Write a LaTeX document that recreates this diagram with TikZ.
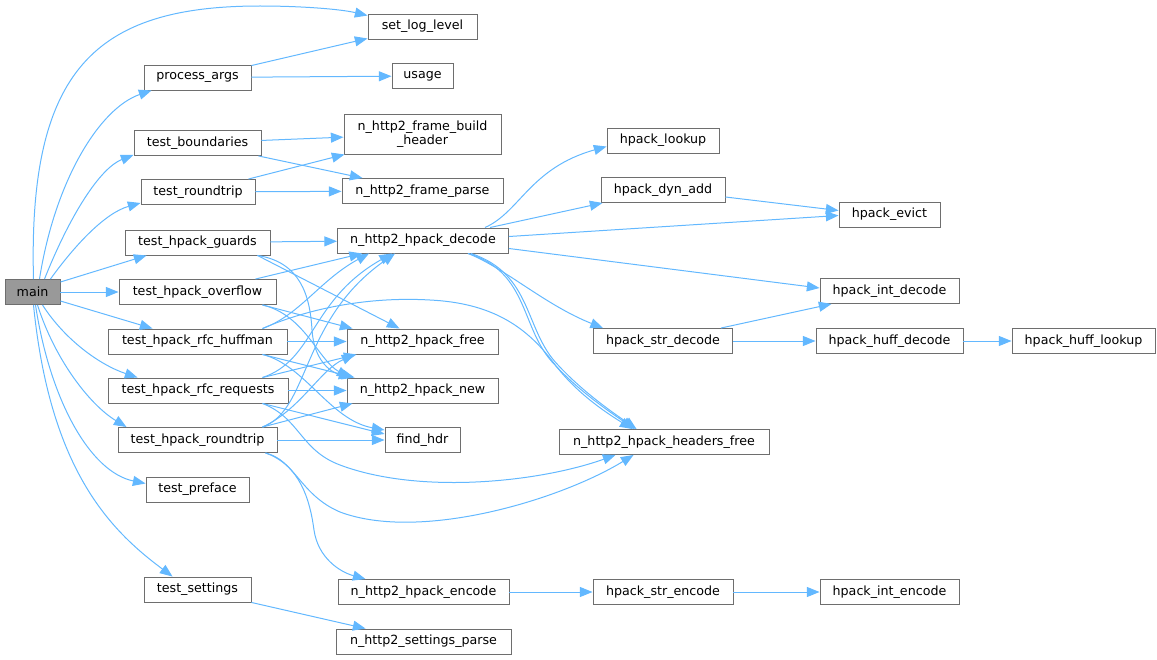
\documentclass[tikz,border=0pt]{standalone}
\usepackage{fontspec}
\setmainfont{DejaVu Sans}
\usetikzlibrary{arrows.meta,calc}
\definecolor{edgeblue}{HTML}{63B8FF}
\definecolor{boxgray}{HTML}{6E6E6E}
\definecolor{mainfill}{HTML}{999999}
\tikzset{
  fn/.style={draw=boxgray, line width=0.7pt, fill=white, inner sep=0pt,
    minimum height=18.75pt, align=center,
    font=\fontsize{9.5}{10.5}\selectfont},
  bw/.style={minimum width=#1*0.75pt},
  edge/.style={draw=edgeblue, line width=0.75pt,
    -{Triangle[length=9.5pt,width=7.5pt]}},
}
\begin{document}
\begin{tikzpicture}[x=0.75pt,y=-0.75pt]
\useasboundingbox (0,0) rectangle (1157,660);
% nodes
\node[fn,bw=55,fill=mainfill] (main) at (32.5,292) {main};
\node[fn,bw=109] (setlog) at (422.5,26.5) {set\_log\_level};
\node[fn,bw=107] (procargs) at (197.5,77.5) {process\_args};
\node[fn,bw=61] (usage) at (422.5,76) {usage};
\node[fn,bw=127] (tbound) at (197.5,143) {test\_boundaries};
\node[fn,bw=157,minimum height=30pt] (fbuild) at (422.5,134) {n\_http2\_frame\_build\\\_header};
\node[fn,bw=114] (troundtrip) at (198,192) {test\_roundtrip};
\node[fn,bw=161] (fparse) at (422.5,191) {n\_http2\_frame\_parse};
\node[fn,bw=145] (tguards) at (197.5,242.5) {test\_hpack\_guards};
\node[fn,bw=171] (decode) at (423,240.5) {n\_http2\_hpack\_decode};
\node[fn,bw=157] (toverflow) at (197.5,292) {test\_hpack\_overflow};
\node[fn,bw=179] (thuff) at (197.5,341.5) {test\_hpack\_rfc\_huffman};
\node[fn,bw=151] (hfree) at (422.5,341.5) {n\_http2\_hpack\_free};
\node[fn,bw=180] (treq) at (198,390.5) {test\_hpack\_rfc\_requests};
\node[fn,bw=151] (hnew) at (422.5,390.5) {n\_http2\_hpack\_new};
\node[fn,bw=159] (thround) at (197.5,440) {test\_hpack\_roundtrip};
\node[fn,bw=75] (findhdr) at (422.5,440) {find\_hdr};
\node[fn,bw=103] (tpreface) at (197.5,489.5) {test\_preface};
\node[fn,bw=107] (tsettings) at (197.5,589.5) {test\_settings};
\node[fn,bw=171] (encode) at (423.5,592) {n\_http2\_hpack\_encode};
\node[fn,bw=175] (sparse) at (423.5,641.5) {n\_http2\_settings\_parse};
\node[fn,bw=112] (lookup) at (663,140.5) {hpack\_lookup};
\node[fn,bw=124] (dynadd) at (663,190) {hpack\_dyn\_add};
\node[fn,bw=101] (evict) at (889.5,214.5) {hpack\_evict};
\node[fn,bw=139] (intdec) at (889.5,291) {hpack\_int\_decode};
\node[fn,bw=139] (strdec) at (663,341) {hpack\_str\_decode};
\node[fn,bw=147] (huffdec) at (889.5,341) {hpack\_huff\_decode};
\node[fn,bw=143] (hufflook) at (1083.5,341) {hpack\_huff\_lookup};
\node[fn,bw=210] (hdrfree) at (664,442) {n\_http2\_hpack\_headers\_free};
\node[fn,bw=140] (strenc) at (663,592) {hpack\_str\_encode};
\node[fn,bw=139] (intenc) at (889.5,592) {hpack\_int\_encode};
% edges from main
\draw[edge] ($(main.north)+(1,0)$) .. controls (28,70) and (95,6) .. (260,6) .. controls (300,6) and (340,9) .. ($(setlog.north west)+(0,2)$);
\draw[edge] ($(main.north)+(7,0)$) .. controls (55,180) and (100,108) .. ($(procargs.south west)+(8,0)$);
\draw[edge] ($(main.north)+(12,0)$) .. controls (70,215) and (100,168) .. ($(tbound.south west)+(0,-1)$);
\draw[edge] ($(main.north east)+(-10,0)$) .. controls (75,245) and (105,213) .. ($(troundtrip.south west)+(0,-2)$);
\draw[edge] ($(main.east)+(0,-10)$) -- ($(tguards.south west)+(22,0)$);
\draw[edge] (main) -- (toverflow);
\draw[edge] ($(main.east)+(0,9)$) -- ($(thuff.north west)+(45,0)$);
\draw[edge] ($(main.south)+(10,0)$) .. controls (65,340) and (100,365) .. ($(treq.north west)+(30,0)$);
\draw[edge] ($(main.south)+(5,0)$) .. controls (55,360) and (90,405) .. ($(thround.north west)+(9,0)$);
\draw[edge] ($(main.south)+(3,0)$) .. controls (50,400) and (90,472) .. ($(tpreface.west)+(0,-6)$);
\draw[edge] ($(main.south)+(1,0)$) .. controls (50,470) and (110,530) .. ($(tsettings.north west)+(29,0)$);
% second level
\draw[edge] ($(procargs.north east)+(0,1)$) -- ($(setlog.south west)+(0,-1)$);
\draw[edge] (procargs) -- (usage);
\draw[edge] (tbound) -- (fbuild);
\draw[edge] ($(tbound.south east)+(-3,0)$) -- ($(fparse.north west)+(21,0)$);
\draw[edge] ($(troundtrip.north east)+(-7,0)$) -- ($(fbuild.south west)+(1,0)$);
\draw[edge] (troundtrip) -- (fparse);
% guards
\draw[edge] (tguards) -- (decode);
\draw[edge] ($(tguards.south east)+(-13,0)$) -- ($(hfree.north west)+(53,0)$);
\draw[edge] ($(tguards.south east)+(-13,0)$) .. controls (300,262) and (310,295) .. (312,330) .. controls (314,360) and (330,372) .. ($(hnew.north west)+(5,0)$);
% overflow
\draw[edge] ($(toverflow.north east)+(-21,0)$) -- ($(decode.south west)+(25,0)$);
\draw[edge] ($(toverflow.south east)+(-14,0)$) -- ($(hfree.north west)+(6,0)$);
\draw[edge] ($(toverflow.south east)+(-14,0)$) .. controls (305,315) and (318,360) .. ($(hnew.north west)+(3,0)$);
% huffman
\draw[edge] ($(thuff.north east)+(-25,0)$) .. controls (300,315) and (320,280) .. ($(decode.south west)+(32,0)$);
\draw[edge] (thuff) -- (hfree);
\draw[edge] ($(thuff.south east)+(-25,0)$) -- ($(hnew.north west)+(8,0)$);
\draw[edge] ($(thuff.south east)+(-25,0)$) .. controls (305,365) and (330,420) .. ($(findhdr.north west)+(0,3)$);
\draw[edge] ($(thuff.north east)+(-25,0)$) .. controls (300,312) and (360,296) .. (430,300) .. controls (490,303) and (525,325) .. (553,362) .. controls (575,392) and (605,412) .. ($(hdrfree.north west)+(74,0)$);
% requests
\draw[edge] ($(treq.north east)+(-26,0)$) .. controls (315,360) and (310,300) .. ($(decode.south west)+(55,0)$);
\draw[edge] ($(treq.north east)+(-26,0)$) -- ($(hfree.south west)+(10,0)$);
\draw[edge] (treq) -- (hnew);
\draw[edge] ($(treq.south east)+(-26,0)$) -- ($(findhdr.west)+(0,-6)$);
\draw[edge] ($(treq.south east)+(-26,0)$) .. controls (300,418) and (300,450) .. (340,465) .. controls (420,495) and (540,482) .. ($(hdrfree.south west)+(57,0)$);
% hpack roundtrip
\draw[edge] ($(thround.north east)+(-15,0)$) .. controls (310,410) and (300,320) .. ($(decode.south west)+(58,0)$);
\draw[edge] ($(thround.north east)+(-15,0)$) .. controls (300,410) and (320,370) .. ($(hfree.south west)+(8,0)$);
\draw[edge] ($(thround.north east)+(-15,0)$) -- ($(hnew.south west)+(6,0)$);
\draw[edge] (thround) -- (findhdr);
\draw[edge] ($(thround.south east)+(-12,0)$) .. controls (295,460) and (300,495) .. (340,512) .. controls (420,542) and (560,500) .. ($(hdrfree.south west)+(75,0)$);
\draw[edge] ($(thround.south east)+(-12,0)$) .. controls (300,465) and (310,500) .. (314,530) .. controls (318,558) and (340,572) .. ($(encode.north west)+(28,0)$);
% settings
\draw[edge] (tsettings.south east) -- ($(sparse.north west)+(30,0)$);
% decode
\draw[edge] ($(decode.north east)+(-24,0)$) .. controls (520,212) and (530,168) .. ($(lookup.west)+(0,6)$);
\draw[edge] ($(decode.north east)+(-19,0)$) -- ($(dynadd.south west)+(2,0)$);
\draw[edge] ($(decode.east)+(0,-4)$) -- ($(evict.west)+(0,1)$);
\draw[edge] ($(decode.east)+(0,8)$) -- ($(intdec.west)+(0,-3)$);
\draw[edge] ($(decode.south east)+(-41,0)$) .. controls (505,268) and (545,305) .. ($(strdec.north west)+(10,0)$);
\draw[edge] ($(decode.south east)+(-41,0)$) .. controls (530,272) and (520,330) .. (555,365) .. controls (580,392) and (610,412) .. ($(hdrfree.north west)+(76,0)$);
\draw[edge] ($(decode.south east)+(-38,0)$) .. controls (533,274) and (524,330) .. (558,365) .. controls (583,392) and (612,412) .. ($(hdrfree.north west)+(78,0)$);
% right part
\draw[edge] ($(dynadd.east)+(0,7)$) -- ($(evict.west)+(0,-4)$);
\draw[edge] ($(strdec.north east)+(-12,0)$) -- ($(intdec.south west)+(12,0)$);
\draw[edge] (strdec) -- (huffdec);
\draw[edge] (huffdec) -- (hufflook);
\draw[edge] (encode) -- (strenc);
\draw[edge] (strenc) -- (intenc);
\end{tikzpicture}
\end{document}
